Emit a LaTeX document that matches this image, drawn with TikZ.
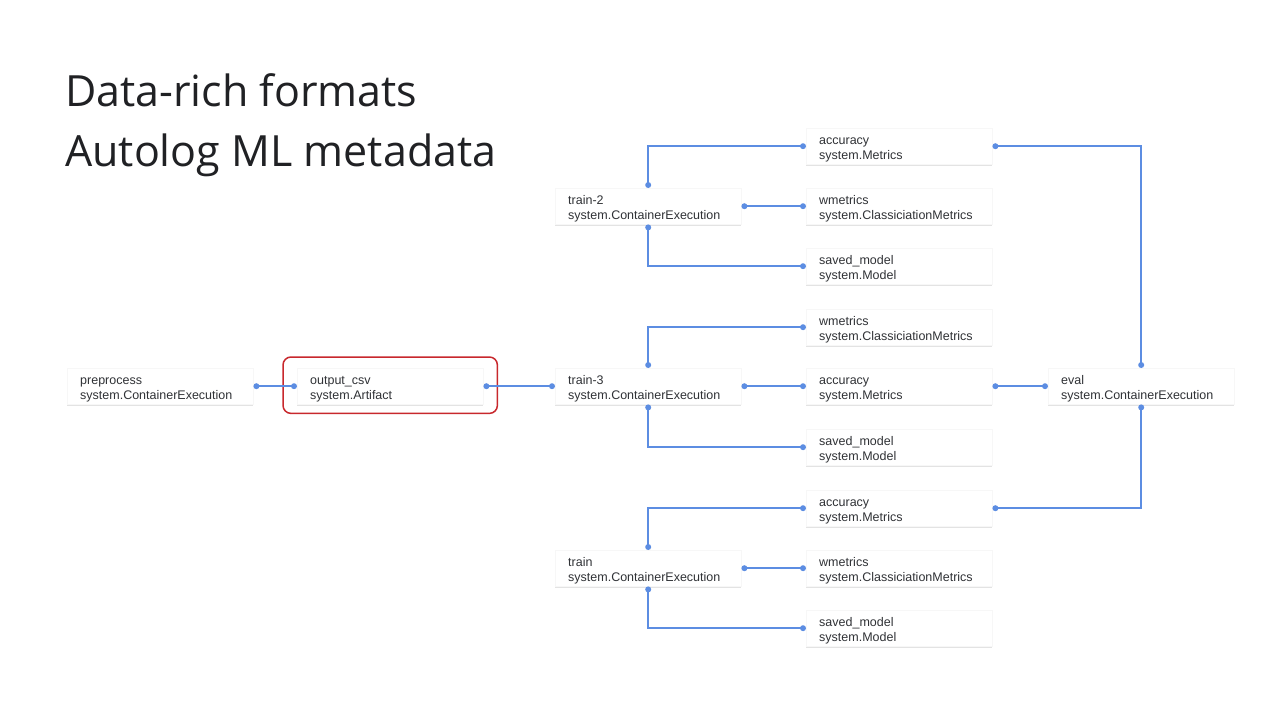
\documentclass[tikz,border=0pt]{standalone}
\usepackage{fontspec}
\setmainfont{Liberation Sans}
\newfontfamily\titlefont{Open Sans}
\usetikzlibrary{shadows}
\definecolor{lineblue}{RGB}{92,141,226}
\definecolor{txtgray}{RGB}{48,50,54}
\definecolor{titlegray}{RGB}{32,33,36}
\definecolor{hlred}{RGB}{200,40,45}
\begin{document}
\begin{tikzpicture}[x=1pt,y=-1pt,
  card/.style={anchor=north west, fill=white, draw=black!3, line width=0.4pt,
    drop shadow={shadow xshift=0pt, shadow yshift=-1.5pt, opacity=0.22},
    text width=160pt, inner xsep=13pt, inner ysep=0pt, minimum height=36pt,
    align=left, font=\fontsize{12.5}{15}\selectfont, text=txtgray,
    execute at begin node={\rule{0pt}{13.5pt}}},
  conn/.style={draw=lineblue, line width=1.6pt},
  dot/.style={fill=lineblue},
  ttl/.style={anchor=base west, font=\titlefont\fontsize{43}{48}\selectfont, text=titlegray, inner sep=0pt}
]
\useasboundingbox (0,0) rectangle (1280,720);
\fill[white] (0,0) rectangle (1280,720);

\node[ttl] (t1) at (65,106) {Data-rich formats};
\node[ttl] (t2) at (65,166) {Autolog ML metadata};

% left chain
\node[card] (pre) at (67,368) {preprocess\\system.ContainerExecution};
\node[card] (csv) at (297,368) {output\_csv\\system.Artifact};
\node[card] (tr3) at (555,368) {train-3\\system.ContainerExecution};
\node[card] (tr2) at (555,188) {train-2\\system.ContainerExecution};
\node[card] (tr1) at (555,550) {train\\system.ContainerExecution};
\node[card] (ev) at (1048,368) {eval\\system.ContainerExecution};

% right column
\node[card] (acc2) at (806,128) {accuracy\\system.Metrics};
\node[card] (wm2) at (806,188) {wmetrics\\system.ClassiciationMetrics};
\node[card] (sm2) at (806,248) {saved\_model\\system.Model};
\node[card] (wm3) at (806,309) {wmetrics\\system.ClassiciationMetrics};
\node[card] (acc3) at (806,368) {accuracy\\system.Metrics};
\node[card] (sm3) at (806,429) {saved\_model\\system.Model};
\node[card] (acc1) at (806,490) {accuracy\\system.Metrics};
\node[card] (wm1) at (806,550) {wmetrics\\system.ClassiciationMetrics};
\node[card] (sm1) at (806,610) {saved\_model\\system.Model};

% highlight
\draw[hlred, line width=1.5pt, rounded corners=8pt]
  ([xshift=-14pt,yshift=11pt]csv.north west) rectangle ([xshift=14pt,yshift=-9pt]csv.south east);

% dots coordinates
\foreach \n in {pre,csv,tr3,tr2,tr1,ev,acc2,wm2,sm2,wm3,acc3,sm3,acc1,wm1,sm1}{
  \coordinate (\n-e) at ([xshift=3pt]\n.east);
  \coordinate (\n-w) at ([xshift=-3pt]\n.west);
  \coordinate (\n-n) at ([yshift=3pt]\n.north);
  \coordinate (\n-s) at ([yshift=-3pt]\n.south);
}

% connectors
\draw[conn] (pre-e) -- (csv-w);
\draw[conn] (csv-e) -- (tr3-w);
\foreach \t/\a/\w/\s in {tr2/acc2/wm2/sm2, tr3/wm3/acc3/sm3, tr1/acc1/wm1/sm1}{
  \draw[conn] (\t-n) |- (\a-w);
  \draw[conn] (\t-e) -- (\w-w);
  \draw[conn] (\t-s) |- (\s-w);
  \fill[dot] (\t-n) circle (3pt) (\t-e) circle (3pt) (\t-s) circle (3pt)
     (\a-w) circle (3pt) (\w-w) circle (3pt) (\s-w) circle (3pt);
}
\draw[conn] (acc2-e) -| (ev-n);
\draw[conn] (acc3-e) -- (ev-w);
\draw[conn] (acc1-e) -| (ev-s);
\fill[dot] (pre-e) circle (3pt) (csv-w) circle (3pt) (csv-e) circle (3pt) (tr3-w) circle (3pt)
  (acc2-e) circle (3pt) (acc3-e) circle (3pt) (acc1-e) circle (3pt)
  (ev-n) circle (3pt) (ev-w) circle (3pt) (ev-s) circle (3pt);
\end{tikzpicture}
\end{document}
